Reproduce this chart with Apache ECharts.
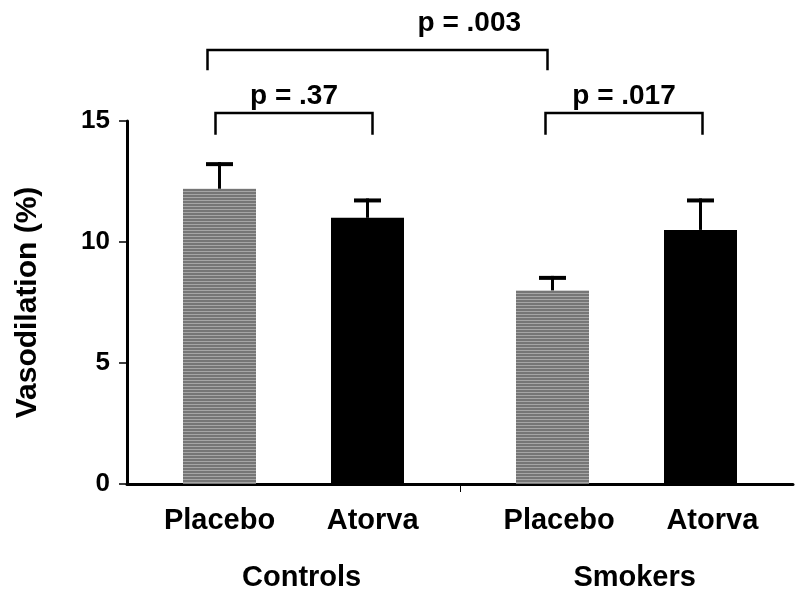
<!DOCTYPE html>
<html>
<head>
<meta charset="utf-8">
<script src="https://cdn.jsdelivr.net/npm/echarts@6/dist/echarts.min.js"></script>
<style>
  html, body { margin: 0; padding: 0; background: #fff; }
  #chart { width: 800px; height: 598px; }
</style>
</head>
<body>
<div id="chart"></div>
<script>
  // groups and treatments, bars are ordered Controls/Placebo, Controls/Atorva, Smokers/Placebo, Smokers/Atorva
  var groups = ['Controls', 'Smokers'];
  var treatments = ['Placebo', 'Atorva'];
  var means = [12.2, 11.0, 8.0, 10.5];
  var sems = [1.1, 0.8, 0.6, 1.3];
  var yTicks = [0, 5, 10, 15];
  // comparisons between bars (index into means) and their p values
  var pairs = [[0, 1], [2, 3], [0, 2]];
  var pLabels = ['p = .37', 'p = .017', 'p = .003'];

  var FONT = '"Liberation Sans", Arial, Helvetica, sans-serif';

  // position of a bar on the x value axis
  function barPos(i) {
    var g = Math.floor(i / 2), t = i % 2;
    return 1.25 + g * 4.5 + t * 2;
  }
  // the printed labels sit a little right of the bars
  var labelShift = [0, 0.07, 0.09, 0.16];
  function labelPos(i) { return barPos(i) + labelShift[i]; }

  // striped gray fill for the placebo bars
  var pat = document.createElement('canvas');
  pat.width = 4; pat.height = 3;
  var ctx = pat.getContext('2d');
  ctx.fillStyle = '#767676';
  ctx.fillRect(0, 0, 4, 3);
  ctx.fillStyle = '#a6a6a6';
  ctx.fillRect(0, 2, 4, 1);

  var barData = means.map(function (m, i) {
    return {
      value: [barPos(i), m],
      itemStyle: { color: i % 2 === 0 ? { image: pat, repeat: 'repeat' } : '#000' }
    };
  });

  var errData = means.map(function (m, i) {
    return [barPos(i), m, m + sems[i]];
  });

  // bracket layout (value units of the y axis)
  var bracketLayout = [
    { level: 15.33, drop: 0.9, dx1: -4, dx2: 5, textAt: 0.5, textUp: 0.7 },
    { level: 15.33, drop: 0.9, dx1: -7, dx2: 2, textAt: 0.5, textUp: 0.7 },
    { level: 17.93, drop: 0.83, dx1: -12, dx2: -5, textAt: 0.77, textUp: 1.1 }
  ];

  var bracketData = pairs.map(function (p, i) {
    return [barPos(p[0]), bracketLayout[i].level];
  });

  function renderError(params, api) {
    var base = api.coord([api.value(0), api.value(1)]);
    var top = api.coord([api.value(0), api.value(2)]);
    return {
      type: 'group',
      children: [{
        type: 'line',
        shape: { x1: base[0], y1: base[1], x2: top[0], y2: top[1] },
        style: { stroke: '#000', lineWidth: 3 }
      }, {
        type: 'rect',
        shape: { x: top[0] - 13.5, y: top[1], width: 27, height: 4 },
        style: { fill: '#000' }
      }]
    };
  }

  function renderBracket(params, api) {
    var i = params.dataIndex;
    var lay = bracketLayout[i];
    var p = pairs[i];
    var a = api.coord([barPos(p[0]), lay.level]);
    var b = api.coord([barPos(p[1]), lay.level]);
    var low = api.coord([barPos(p[0]), lay.level - lay.drop]);
    var txt = api.coord([barPos(p[0]), lay.level + lay.textUp]);
    var x1 = a[0] + lay.dx1, x2 = b[0] + lay.dx2;
    return {
      type: 'group',
      children: [{
        type: 'polyline',
        shape: { points: [[x1, low[1]], [x1, a[1]], [x2, a[1]], [x2, low[1]]] },
        style: { stroke: '#000', lineWidth: 2.5, fill: null }
      }, {
        type: 'text',
        style: {
          text: pLabels[i],
          x: x1 + (x2 - x1) * lay.textAt,
          y: txt[1],
          align: 'center',
          verticalAlign: 'middle',
          fontSize: 28,
          fontWeight: 'bold',
          fontFamily: FONT,
          fill: '#000'
        }
      }]
    };
  }

  var chart = echarts.init(document.getElementById('chart'));
  var option = {
    backgroundColor: '#fff',
    animation: false,
    grid: { left: 127, right: 7, top: 121, bottom: 114, containLabel: false },
    xAxis: [{
      type: 'value',
      min: 0,
      max: 9,
      position: 'bottom',
      axisLine: { show: true, onZero: false, lineStyle: { color: '#000', width: 3 } },
      axisTick: { show: true, customValues: [4.5], length: 8, lineStyle: { color: '#000', width: 1 } },
      axisLabel: {
        customValues: [labelPos(0), labelPos(1), labelPos(2), labelPos(3)],
        formatter: function (v) {
          for (var i = 0; i < 4; i++) if (Math.abs(labelPos(i) - v) < 1e-6) return treatments[i % 2];
          return '';
        },
        margin: 22,
        color: '#000',
        fontSize: 29,
        fontWeight: 'bold',
        fontFamily: FONT
      },
      splitLine: { show: false }
    }, {
      type: 'value',
      min: 0,
      max: 9,
      position: 'bottom',
      axisLine: { show: false },
      axisTick: { show: false },
      axisLabel: {
        customValues: [2.36, 6.86],
        formatter: function (v) { return v < 4.5 ? groups[0] : groups[1]; },
        margin: 79,
        color: '#000',
        fontSize: 29,
        fontWeight: 'bold',
        fontFamily: FONT
      },
      splitLine: { show: false }
    }],
    yAxis: {
      type: 'value',
      min: yTicks[0],
      max: yTicks[yTicks.length - 1],
      interval: 5,
      name: 'Vasodilation (%)',
      nameLocation: 'middle',
      nameGap: 84,
      nameTextStyle: { color: '#000', fontSize: 30, fontWeight: 'bold', fontFamily: FONT },
      axisLine: { show: true, lineStyle: { color: '#000', width: 3 } },
      axisTick: { show: true, length: 8, lineStyle: { color: '#000', width: 1.5 } },
      axisLabel: { margin: 17, color: '#000', fontSize: 26, fontWeight: 'bold', fontFamily: FONT },
      splitLine: { show: false }
    },
    series: [{
      type: 'bar',
      xAxisIndex: 0,
      barWidth: 73,
      data: barData,
      z: 2
    }, {
      type: 'custom',
      xAxisIndex: 0,
      renderItem: renderError,
      encode: { x: 0, y: [1, 2] },
      data: errData,
      z: 3
    }, {
      type: 'custom',
      xAxisIndex: 0,
      renderItem: renderBracket,
      clip: false,
      encode: { x: 0, y: 1 },
      data: bracketData,
      z: 4
    }]
  };
  chart.setOption(option);
</script>
</body>
</html>
